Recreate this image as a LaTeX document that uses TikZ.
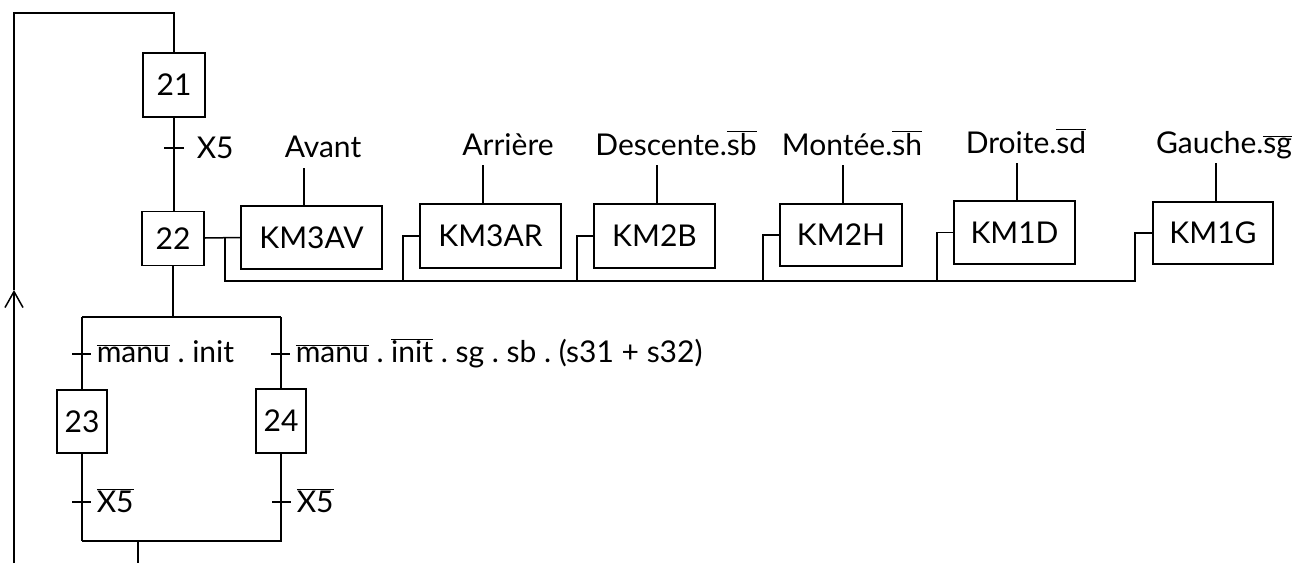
\documentclass[tikz,border=0pt]{standalone}
\usepackage{fontspec}
\setmainfont{Lato}
\usetikzlibrary{arrows.meta}
\newcommand\ovl[1]{$\overline{\mbox{#1}}$}
\begin{document}
\frenchspacing
\begin{tikzpicture}[x=1pt,y=-1pt, line width=1.5pt, font=\fontsize{30}{36}\selectfont\frenchspacing,
  stepbox/.style={draw, inner sep=0pt, line width=1.5pt},
  actbox/.style={draw, inner sep=0pt, line width=1.5pt},
  lab/.style={anchor=base, inner sep=0pt},
  tlab/.style={anchor=base west, inner sep=0pt}]
\useasboundingbox (0,0) rectangle (1305,563);

% steps
\node[stepbox, minimum width=62, minimum height=64] (s21) at (174,85) {21};
\node[stepbox, minimum width=62, minimum height=54] (s22) at (173,238.5) {22};
\node[stepbox, minimum width=50, minimum height=63] (s23) at (82,421.5) {23};
\node[stepbox, minimum width=50, minimum height=64] (s24) at (281,421) {24};

% loop back
\coordinate (loopB) at (14,563);
\coordinate (arr) at (14,290);
\coordinate (loopTL) at (14,13);
\coordinate (loopTR) at (174,13);
\draw[-{Straight Barb[length=16pt,width=18pt,line width=1.5pt]}] (loopB) -- (arr);
\draw (arr) -- (loopTL) -- (loopTR) -- (s21.north);

% 21 -> 22
\draw (s21.south) -- (s21.south |- s22.north);
\draw (164,148) -- (184,148);
\node[tlab] (t1) at (196,158) {X5};

% divergence
\coordinate (divC) at (173,317);
\coordinate (divL) at (82,317);
\coordinate (divR) at (281,317);
\draw (s22.south) -- (divC);
\draw (divL) -- (divR);
\draw (divL) -- (s23.north);
\draw (divR) -- (s24.north);
\draw (72,354) -- (91,354);
\draw (271,354) -- (290,354);
\node[tlab] (t2) at (96,362) {\ovl{manu} . init};
\node[tlab] (t3) at (295,362) {\ovl{manu} . \ovl{init} . sg . sb . (s31 + s32)};

% convergence
\coordinate (cvL) at (82,541);
\coordinate (cvR) at (282,541);
\coordinate (cvC) at (138,541);
\coordinate (cvB) at (138,563);
\draw (s23.south) -- (cvL);
\draw (s24.south) -- (s24.south |- cvR);
\draw (cvL) -- (cvR);
\draw (cvC) -- (cvB);
\draw (72,502) -- (91,502);
\draw (272,502) -- (291,502);
\node[tlab] (t4) at (96,512) {\ovl{X5}};
\node[tlab] (t5) at (296,512) {\ovl{X5}};

% actions
\node[actbox, minimum width=141, minimum height=63] (km3av) at (311.5,237.5) {KM3AV};
\node[actbox, minimum width=141, minimum height=64] (km3ar) at (490.5,236) {KM3AR};
\node[actbox, minimum width=121, minimum height=64] (km2b) at (654.5,236) {KM2B};
\node[actbox, minimum width=122, minimum height=62] (km2h) at (841,235) {KM2H};
\node[actbox, minimum width=121, minimum height=63] (km1d) at (1014.5,232.5) {KM1D};
\node[actbox, minimum width=120, minimum height=62] (km1g) at (1213,233) {KM1G};

% action labels
\node[lab] (l1) at (323,157) {Avant};
\node[lab] (l2) at (508,155) {Arrière};
\node[lab] (l3) at (676,155) {Descente.\ovl{sb}};
\node[lab] (l4) at (852,155) {Montée.\ovl{sh}};
\node[lab] (l5) at (1026,153) {Droite.\ovl{sd}};
\node[lab] (l6) at (1224,153) {Gauche.\ovl{sg}};
\coordinate (a1) at (304,168);
\coordinate (a2) at (483,165);
\coordinate (a3) at (657,165);
\coordinate (a4) at (843,165);
\coordinate (a5) at (1017,163);
\coordinate (a6) at (1216,163);
\draw (a1) -- (a1 |- km3av.north);
\draw (a2) -- (a2 |- km3ar.north);
\draw (a3) -- (a3 |- km2b.north);
\draw (a4) -- (a4 |- km2h.north);
\draw (a5) -- (a5 |- km1d.north);
\draw (a6) -- (a6 |- km1g.north);

% bus
\coordinate (j0) at (225,238);
\coordinate (busR) at (1135,281);
\draw (s22.east |- j0) -- (km3av.west);
\draw (j0) |- (busR) |- (km1g.west);
\draw (km3ar.west) -| (403,281);
\draw (km2b.west) -| (577,281);
\draw (km2h.west) -| (763,281);
\draw (km1d.west) -| (937,281);
\end{tikzpicture}
\end{document}
